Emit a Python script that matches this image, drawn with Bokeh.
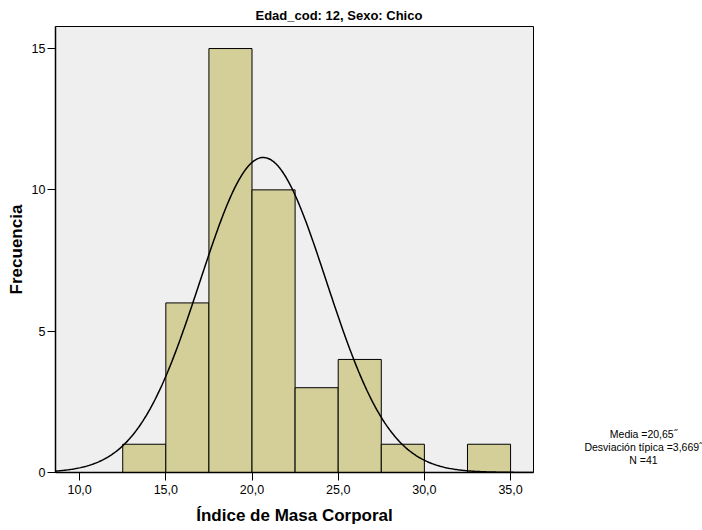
import numpy as np
from bokeh.plotting import figure
from bokeh.models import FixedTicker, Range1d
from bokeh.layouts import row
from bokeh.embed import file_html
from bokeh.resources import INLINE

# ---- data ----
bin_left = [12.5, 15.0, 17.5, 20.0, 22.5, 25.0, 27.5, 30.0, 32.5]
bin_right = [15.0, 17.5, 20.0, 22.5, 25.0, 27.5, 30.0, 32.5, 35.0]
counts = [1, 6, 15, 10, 3, 4, 1, 0, 1]
mean_val = 20.65
sd_val = 3.669
n_val = 41
bin_width = 2.5
x_ticks = [10, 15, 20, 25, 30, 35]
x_tick_labels = ["10,0", "15,0", "20,0", "25,0", "30,0", "35,0"]
y_ticks = [0, 5, 10, 15]
title_text = "Edad_cod: 12, Sexo: Chico"
x_label = "Índice de Masa Corporal"
y_label = "Frecuencia"
stats_lines = ["Media =20,65\u02dd", "Desviación típica =3,669\u02dd", "N =41"]

FONT = "Liberation Sans"
X0, X1 = 8.6, 36.33
Y0, Y1 = 0.0, 15.78

MAIN_W = 540
FRAME_TOP, FRAME_BOTTOM = 26, 472
p = figure(width=MAIN_W, height=530, output_backend="svg", toolbar_location=None,
           x_range=Range1d(X0, X1), y_range=Range1d(Y0, Y1),
           min_border_left=55, min_border_right=MAIN_W - 533, min_border_top=FRAME_TOP,
           min_border_bottom=530 - FRAME_BOTTOM)
p.background_fill_color = "#efefef"
p.border_fill_color = "white"
p.outline_line_color = "black"
p.outline_line_width = 1
p.grid.visible = False

p.title.text = title_text
p.title.align = "left"
p.title.offset = 255 - 55
p.title.text_font = FONT
p.title.text_font_size = "13px"
p.title.text_font_style = "bold"
p.title.text_color = "black"
p.title.standoff = 7

# bars
nz = [i for i, c in enumerate(counts) if c > 0]
p.quad(left=[bin_left[i] for i in nz], right=[bin_right[i] for i in nz],
       bottom=0, top=[counts[i] for i in nz],
       fill_color="#d4cf98", line_color="black", line_width=1)

# normal curve from stated mean / sd / N
xs = np.linspace(X0, X1, 400)
ys = n_val * bin_width / (sd_val * np.sqrt(2 * np.pi)) * np.exp(-0.5 * ((xs - mean_val) / sd_val) ** 2)
p.line(xs, ys, line_color="black", line_width=1.5)

# axes
xa = p.xaxis[0]
xa.ticker = FixedTicker(ticks=x_ticks)
xa.major_label_overrides = {t: l for t, l in zip(x_ticks, x_tick_labels)}
xa.minor_tick_line_color = None
xa.major_tick_out = 8
xa.major_tick_in = 0
xa.major_tick_line_color = "black"
xa.axis_line_color = "black"
xa.axis_line_width = 1.5
xa.major_label_text_font = FONT
xa.major_label_text_font_size = "12.5px"
xa.major_label_text_color = "black"
xa.major_label_standoff = 4
xa.axis_label = x_label
xa.axis_label_text_font = FONT
xa.axis_label_text_font_size = "17px"
xa.axis_label_text_font_style = "bold"
xa.axis_label_text_color = "black"
xa.axis_label_standoff = 9

ya = p.yaxis[0]
ya.ticker = FixedTicker(ticks=y_ticks)
ya.minor_tick_line_color = None
ya.major_tick_out = 8
ya.major_tick_in = 0
ya.major_tick_line_color = "black"
ya.axis_line_color = "black"
ya.axis_line_width = 1.5
ya.major_label_text_font = FONT
ya.major_label_text_font_size = "12.5px"
ya.major_label_text_color = "black"
ya.major_label_standoff = 2
ya.axis_label = y_label
ya.axis_label_text_font = FONT
ya.axis_label_text_font_size = "17px"
ya.axis_label_text_font_style = "bold"
ya.axis_label_text_color = "black"
ya.axis_label_standoff = 3

# right-hand panel with the statistics text (pixel coordinates; frame aligned with main frame)
SIDE_W = 702 - MAIN_W
p2 = figure(width=SIDE_W, height=530, output_backend="svg", toolbar_location=None,
            x_axis_location=None, y_axis_location=None,
            x_range=Range1d(MAIN_W, 702), y_range=Range1d(FRAME_BOTTOM, FRAME_TOP),
            min_border=0, min_border_left=0, min_border_right=0,
            min_border_top=FRAME_TOP, min_border_bottom=530 - FRAME_BOTTOM)
p2.grid.visible = False
p2.outline_line_color = None
p2.background_fill_color = "white"
p2.border_fill_color = "white"
p2.text(x=[643] * len(stats_lines), y=[433 + 13 * i for i in range(len(stats_lines))],
        text=stats_lines, text_align="center", text_baseline="middle",
        text_font={"value": FONT}, text_font_size="10.5px", text_color="black")

open("out.html", "w").write(file_html(row(p, p2), INLINE))
